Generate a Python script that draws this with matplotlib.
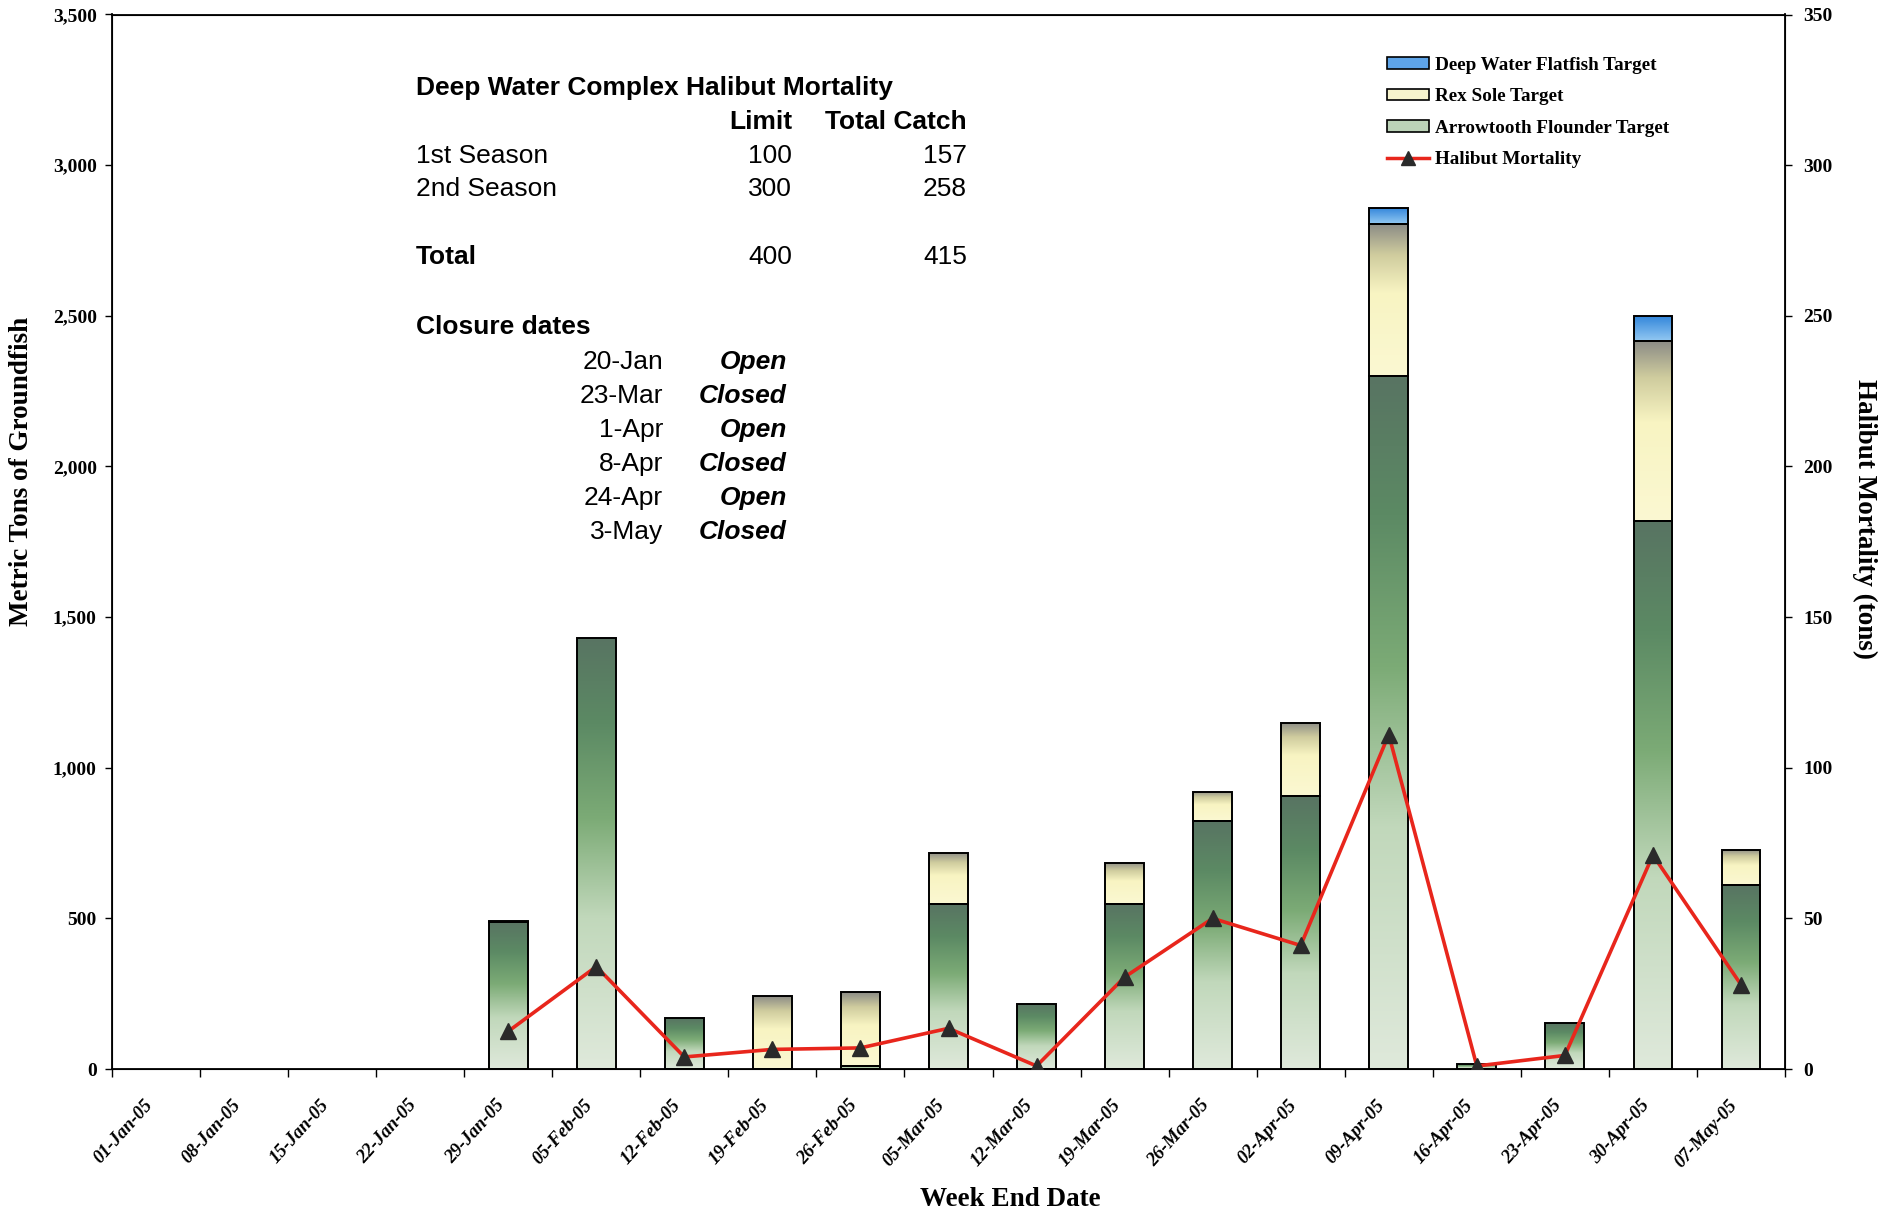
import matplotlib
matplotlib.use("Agg")
import matplotlib.pyplot as plt
import numpy as np
from matplotlib.colors import LinearSegmentedColormap
from matplotlib.lines import Line2D
from matplotlib.patches import Patch
from matplotlib.ticker import FuncFormatter

plt.rcParams['font.family'] = ['Liberation Serif', 'DejaVu Serif']

# --- data ---
weeks = ['01-Jan-05', '08-Jan-05', '15-Jan-05', '22-Jan-05', '29-Jan-05',
         '05-Feb-05', '12-Feb-05', '19-Feb-05', '26-Feb-05', '05-Mar-05',
         '12-Mar-05', '19-Mar-05', '26-Mar-05', '02-Apr-05', '09-Apr-05',
         '16-Apr-05', '23-Apr-05', '30-Apr-05', '07-May-05']
arrowtooth = [0, 0, 0, 0, 487, 1432, 168, 0, 10, 546, 217, 546, 822, 905,
              2300, 16, 152, 1818, 610]
rex_sole = [0, 0, 0, 0, 5, 0, 0, 241, 245, 172, 0, 138, 99, 245,
            503, 0, 0, 597, 117]
deep_flatfish = [0, 0, 0, 0, 0, 0, 0, 0, 0, 0, 0, 0, 0, 0,
                 56, 0, 0, 85, 0]
halibut = [np.nan, np.nan, np.nan, np.nan, 12.5, 34, 4, 6.5, 7, 13.5,
           1, 30.5, 50, 41, 111, 1, 4.5, 71, 28]

series_names = ['Deep Water Flatfish Target', 'Rex Sole Target',
                'Arrowtooth Flounder Target', 'Halibut Mortality']

# table text
table_title = 'Deep Water Complex Halibut Mortality'
table_cols = ['Limit', 'Total Catch']
seasons = ['1st Season', '2nd Season']
season_limits = [100, 300]
season_catch = [157, 258]
total_limit = 400
total_catch = 415
closure_dates = ['20-Jan', '23-Mar', '1-Apr', '8-Apr', '24-Apr', '3-May']
closure_status = ['Open', 'Closed', 'Open', 'Closed', 'Open', 'Closed']

W, H = 1893, 1213
fig = plt.figure(figsize=(W / 100, H / 100), dpi=100)


def px(x, y):
    return x / W, 1 - y / H


ax = fig.add_axes([112 / W, 1 - 1069 / H, (1785 - 112) / W, (1069 - 14.5) / H])

# gradient colormaps (bottom -> top)
cm_arrow = LinearSegmentedColormap.from_list('arrow', [
    (0.0, '#dfe9db'), (0.35, '#c1d8bb'), (0.58, '#7cab76'),
    (0.8, '#5c8a64'), (1.0, '#587462')])
cm_rex = LinearSegmentedColormap.from_list('rex', [
    (0.0, '#fbf8d2'), (0.55, '#f8f4c2'), (0.8, '#cfcc9e'), (1.0, '#8c8c86')])
cm_dwf = LinearSegmentedColormap.from_list('dwf', [
    (0.0, '#93c8f2'), (1.0, '#2f84da')])

x = np.arange(len(weeks)) + 0.5
width = 0.44
grad = np.linspace(0, 1, 256).reshape(-1, 1)


def grad_bars(vals, bottom, cmap):
    bars = ax.bar(x, vals, width, bottom=bottom, facecolor='none',
                  edgecolor='black', linewidth=1.4, zorder=3)
    for b, v in zip(bars, vals):
        if v <= 0:
            b.set_visible(False)
            continue
        x0, y0 = b.get_x(), b.get_y()
        im = ax.imshow(grad, cmap=cmap, origin='lower', aspect='auto',
                       extent=(x0, x0 + b.get_width(), y0, y0 + b.get_height()),
                       zorder=2, interpolation='bilinear')
        im.set_clip_path(b)
    return bars


b1 = np.array(arrowtooth, dtype=float)
b2 = b1 + np.array(rex_sole)
grad_bars(arrowtooth, 0, cm_arrow)
grad_bars(rex_sole, b1, cm_rex)
grad_bars(deep_flatfish, b2, cm_dwf)

ax.set_xlim(0, len(weeks))
ax.set_ylim(0, 3500)
ax.set_yticks(np.arange(0, 3501, 500))
ax.yaxis.set_major_formatter(FuncFormatter(lambda v, p: f'{int(v):,}'))
ax.set_xticks(x)
ax.set_xticklabels(weeks, rotation=48, ha='right', fontstyle='italic',
                   fontweight='bold', fontsize=13.5)
ax.set_xticks(np.arange(len(weeks) + 1), minor=True)
ax.tick_params(axis='x', which='major', length=0, pad=20)
ax.tick_params(axis='x', which='minor', length=6, width=1, direction='out')
ax.tick_params(axis='y', length=5, width=1, pad=6, labelsize=14)
for lab in ax.get_yticklabels():
    lab.set_fontweight('bold')
for s in ax.spines.values():
    s.set_linewidth(1.3)

ax2 = ax.twinx()
ax2.plot(x, halibut, color='#e8261c', lw=2.6, marker='^', ms=12,
         mfc='#2a2a2a', mec='#2a2a2a', zorder=5)
ax2.set_ylim(0, 350)
ax2.set_yticks(np.arange(0, 351, 50))
ax2.tick_params(axis='y', length=5, width=1, pad=8, labelsize=14)
for lab in ax2.get_yticklabels():
    lab.set_fontweight('bold')

fig.text(*px(22, 471), 'Metric Tons of Groundfish', rotation=90,
         ha='center', va='center', fontsize=19.5, fontweight='bold')
fig.text(*px(1865, 519), 'Halibut Mortality (tons)', rotation=270,
         ha='center', va='center', fontsize=19.5, fontweight='bold')
fig.text(*px(1010, 1199), 'Week End Date', ha='center', va='center',
         fontsize=19.5, fontweight='bold')

# legend
handles = [Patch(facecolor='#5ea4e8', edgecolor='black', lw=1.2),
           Patch(facecolor='#f6f3cc', edgecolor='black', lw=1.2),
           Patch(facecolor='#bcd3b8', edgecolor='black', lw=1.2),
           Line2D([], [], color='#e8261c', lw=2.5, marker='^', ms=10,
                  mfc='#2a2a2a', mec='#2a2a2a')]
fig.legend(handles, series_names, loc='upper left', bbox_to_anchor=px(1387, 57),
           frameon=False, prop=dict(family='Liberation Serif', weight='bold', size=13.8),
           handlelength=2.2, handleheight=0.55, handletextpad=0.3,
           labelspacing=0.75, borderpad=0, borderaxespad=0)

# text table
sans = ['Liberation Sans', 'DejaVu Sans']
fs = 19
fig.text(*px(416, 88), table_title, family=sans, fontsize=fs,
         fontweight='bold', va='center')
fig.text(*px(792, 122), table_cols[0], family=sans, fontsize=fs,
         fontweight='bold', va='center', ha='right')
fig.text(*px(967, 122), table_cols[1], family=sans, fontsize=fs,
         fontweight='bold', va='center', ha='right')
for name, lim, cat, yy in zip(seasons, season_limits, season_catch, [156, 189.5]):
    fig.text(*px(416, yy), name, family=sans, fontsize=fs, va='center')
    fig.text(*px(792, yy), str(lim), family=sans, fontsize=fs, va='center', ha='right')
    fig.text(*px(967, yy), str(cat), family=sans, fontsize=fs, va='center', ha='right')
fig.text(*px(416, 257), 'Total', family=sans, fontsize=fs, fontweight='bold', va='center')
fig.text(*px(792, 257), str(total_limit), family=sans, fontsize=fs, va='center', ha='right')
fig.text(*px(967, 257), str(total_catch), family=sans, fontsize=fs, va='center', ha='right')
fig.text(*px(416, 327), 'Closure dates', family=sans, fontsize=fs,
         fontweight='bold', va='center')
for i, (d, st) in enumerate(zip(closure_dates, closure_status)):
    yy = 362 + i * 34
    fig.text(*px(663, yy), d, family=sans, fontsize=fs, va='center', ha='right')
    fig.text(*px(787, yy), st, family=sans, fontsize=fs, va='center', ha='right',
             fontweight='bold', fontstyle='italic')

fig.savefig('out.png', dpi=100)
